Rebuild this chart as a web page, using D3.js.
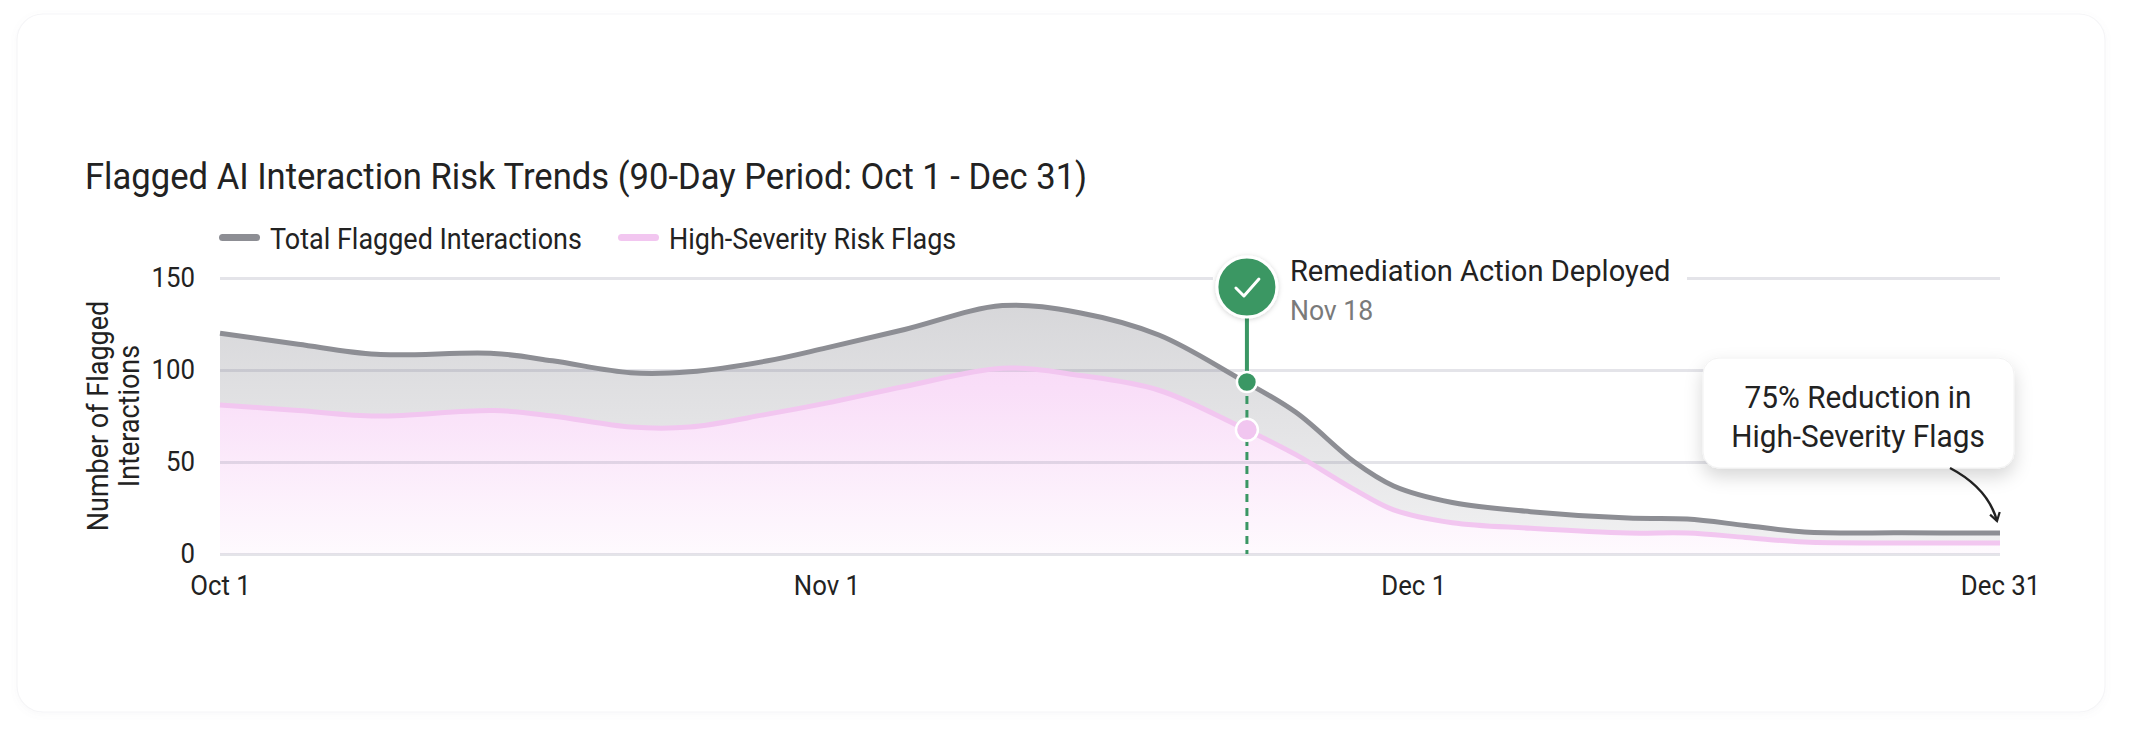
<!DOCTYPE html>
<html>
<head>
<meta charset="utf-8">
<script src="https://cdn.jsdelivr.net/npm/d3@7"></script>
<style>
  body { margin: 0; background: #fff; }
  svg { display: block; font-family: Roboto, "Noto Sans", sans-serif; }
</style>
</head>
<body>
<div class="chart"></div>
<script>
// data
const dates = ["2024-10-01","2024-10-05","2024-10-09","2024-10-15","2024-10-18","2024-10-22",
  "2024-10-25","2024-10-29","2024-11-01","2024-11-05","2024-11-10","2024-11-14","2024-11-18",
  "2024-11-22","2024-11-25","2024-11-28","2024-11-30","2024-12-03","2024-12-07","2024-12-12",
  "2024-12-15","2024-12-18","2024-12-21","2024-12-26","2024-12-31"];
const totalFlagged = [120, 114, 108.5, 109, 105, 98.5, 99, 105, 112, 122, 135, 131, 119,
  96, 77, 50, 37, 28, 23, 19.5, 19, 15.5, 12, 11.5, 11.4];
const highSeverity = [81, 78, 75, 78, 75, 69, 69, 76, 82, 91, 101, 97, 89,
  70, 54, 35, 24, 17, 14, 11.4, 11.4, 9, 6.5, 6, 6];
const seriesNames = ["Total Flagged Interactions", "High-Severity Risk Flags"];
const yTicks = [0, 50, 100, 150];
const xTickDates = ["2024-10-01", "2024-11-01", "2024-12-01", "2024-12-31"];
const xTickLabels = ["Oct 1", "Nov 1", "Dec 1", "Dec 31"];
const markerDate = "2024-11-22T12:00";
const markerValues = [93.5, 67.5];
const markerTitle = "Remediation Action Deployed";
const markerSub = "Nov 18";
const calloutLines = ["75% Reduction in", "High-Severity Flags"];
const chartTitle = "Flagged AI Interaction Risk Trends (90-Day Period: Oct 1 - Dec 31)";
const yTitleLines = ["Number of Flagged", "Interactions"];

function init(){
    const w = 2131, h = 736;
    const left = 220, right = 2000, top = 278, bottom = 554;
    const grayLine = "#8d8e94", pinkLine = "#f2c6f0", green = "#3a9764";

    // lettering in the picture is a little narrower than Roboto: keep height, squeeze width
    function narrow(k){
        return sel => sel.each(function(){
            const n = this.getComputedTextLength();
            d3.select(this).attr("textLength", n * k).attr("lengthAdjust", "spacingAndGlyphs");
        });
    }

    const parse = d3.isoParse;
    const data = dates.map((d, i) => ({date: parse(d), total: totalFlagged[i], high: highSeverity[i]}));

    const x = d3.scaleTime()
      .domain([parse(xTickDates[0]), parse(xTickDates[3])])
      .range([left, right]);
    const y = d3.scaleLinear().domain([0, 150]).range([bottom, top]);

    const svg = d3.select(".chart").append("svg").attr("width", w).attr("height", h);
    const defs = svg.append("defs");

    const f1 = defs.append("filter").attr("id", "cardShadow").attr("x", "-5%").attr("y", "-10%").attr("width", "110%").attr("height", "120%");
    f1.append("feDropShadow").attr("dx", 0).attr("dy", 2).attr("stdDeviation", 3).attr("flood-color", "#8a8aa0").attr("flood-opacity", 0.06);
    const f2 = defs.append("filter").attr("id", "boxShadow").attr("x", "-20%").attr("y", "-30%").attr("width", "140%").attr("height", "180%");
    f2.append("feDropShadow").attr("dx", 0).attr("dy", 8).attr("stdDeviation", 9).attr("flood-color", "#000").attr("flood-opacity", 0.16);
    const f3 = defs.append("filter").attr("id", "badgeShadow").attr("x", "-50%").attr("y", "-50%").attr("width", "200%").attr("height", "200%");
    f3.append("feDropShadow").attr("dx", 0).attr("dy", 1).attr("stdDeviation", 2.5).attr("flood-color", "#000").attr("flood-opacity", 0.18);

    const gGray = defs.append("linearGradient").attr("id", "grayFill")
      .attr("gradientUnits", "userSpaceOnUse").attr("x1", 0).attr("x2", 0).attr("y1", top).attr("y2", bottom);
    gGray.append("stop").attr("offset", 0).attr("stop-color", "#d4d4d7");
    gGray.append("stop").attr("offset", 1).attr("stop-color", "#f1f1f2");
    const gPink = defs.append("linearGradient").attr("id", "pinkFill")
      .attr("gradientUnits", "userSpaceOnUse").attr("x1", 0).attr("x2", 0).attr("y1", top).attr("y2", bottom);
    gPink.append("stop").attr("offset", 0).attr("stop-color", "#f7d2f5");
    gPink.append("stop").attr("offset", 0.4).attr("stop-color", "#f9def8");
    gPink.append("stop").attr("offset", 1).attr("stop-color", "#fefafe");

    // card
    svg.append("rect").attr("x", 17).attr("y", 14).attr("width", 2088).attr("height", 698)
      .attr("rx", 26).attr("fill", "#fff").attr("stroke", "#f5f5f7").attr("stroke-width", 1.2)
      .attr("filter", "url(#cardShadow)");

    // title
    svg.append("text").attr("x", 85).attr("y", 189)
      .attr("font-size", 37).attr("fill", "#222").text(chartTitle)
      .call(narrow(0.935));

    // legend
    const legendX = [219, 618];
    const legendColors = [grayLine, pinkLine];
    seriesNames.forEach((name, i) => {
        svg.append("rect").attr("x", legendX[i]).attr("y", 234).attr("width", 41).attr("height", 7)
          .attr("rx", 3.5).attr("fill", legendColors[i]);
        svg.append("text").attr("x", legendX[i] + 51).attr("y", 239).attr("dy", "0.35em")
          .attr("font-size", 29).attr("fill", "#222").text(name)
          .call(narrow(0.93));
    });

    // areas
    const curve = d3.curveCatmullRom.alpha(0.5);
    const grayArea = d3.area().x(d => x(d.date)).y0(d => y(d.high)).y1(d => y(d.total)).curve(curve);
    const pinkArea = d3.area().x(d => x(d.date)).y0(y(0)).y1(d => y(d.high)).curve(curve);
    svg.append("path").datum(data).attr("d", grayArea).attr("fill", "url(#grayFill)");
    svg.append("path").datum(data).attr("d", pinkArea).attr("fill", "url(#pinkFill)");

    // gridlines on top of fills
    svg.append("g")
      .attr("transform", `translate(${left},0)`)
      .call(d3.axisLeft(y).tickValues(yTicks).tickSize(-(right - left)).tickFormat(""))
      .call(g => g.select(".domain").remove())
      .call(g => g.selectAll(".tick line").attr("stroke", "rgba(120,120,145,0.2)").attr("stroke-width", 3));

    // lines
    const totalLine = d3.line().x(d => x(d.date)).y(d => y(d.total)).curve(curve);
    const highLine = d3.line().x(d => x(d.date)).y(d => y(d.high)).curve(curve);
    svg.append("path").datum(data).attr("d", highLine).attr("fill", "none")
      .attr("stroke", pinkLine).attr("stroke-width", 5);
    svg.append("path").datum(data).attr("d", totalLine).attr("fill", "none")
      .attr("stroke", grayLine).attr("stroke-width", 5);

    // axes
    svg.append("g")
      .attr("transform", `translate(${left - 25},0)`)
      .call(d3.axisLeft(y).tickValues(yTicks).tickSize(0).tickPadding(0))
      .call(g => g.select(".domain").remove())
      .call(g => g.selectAll("text").attr("font-size", 28).attr("fill", "#222").attr("font-family", "Roboto").call(narrow(0.92)));

    svg.append("g")
      .attr("transform", `translate(0,${bottom + 21})`)
      .call(d3.axisBottom(x).tickValues(xTickDates.map(parse)).tickSize(0).tickPadding(0)
        .tickFormat((d, i) => xTickLabels[i]))
      .call(g => g.select(".domain").remove())
      .call(g => g.selectAll("text").attr("font-size", 28).attr("fill", "#222").attr("font-family", "Roboto").call(narrow(0.92)));

    // y title
    const yt = svg.append("g").attr("transform", "translate(108,416) rotate(-90)");
    yTitleLines.forEach((t, i) => {
        yt.append("text").attr("x", 0).attr("y", i * 31).attr("text-anchor", "middle")
          .attr("font-size", 29).attr("fill", "#222").text(t).call(narrow(0.93));
    });

    // remediation marker
    const mx = x(parse(markerDate));
    const badgeY = 287;
    svg.append("line").attr("x1", mx).attr("x2", mx).attr("y1", y(markerValues[0])).attr("y2", bottom)
      .attr("stroke", green).attr("stroke-width", 3).attr("stroke-dasharray", "8,6");
    svg.append("line").attr("x1", mx).attr("x2", mx).attr("y1", badgeY).attr("y2", y(markerValues[0]))
      .attr("stroke", green).attr("stroke-width", 4);
    svg.append("circle").attr("cx", mx).attr("cy", y(markerValues[0])).attr("r", 10)
      .attr("fill", green).attr("stroke", "#fff").attr("stroke-width", 2.5);
    svg.append("circle").attr("cx", mx).attr("cy", y(markerValues[1])).attr("r", 11)
      .attr("fill", "#f1c6f0").attr("stroke", "#fff").attr("stroke-width", 2.5);

    svg.append("rect").attr("x", mx - 34).attr("y", 264).attr("width", 1687 - (mx - 34)).attr("height", 30)
      .attr("fill", "#fff");
    svg.append("circle").attr("cx", mx).attr("cy", badgeY).attr("r", 30)
      .attr("fill", green).attr("stroke", "#fff").attr("stroke-width", 3).attr("filter", "url(#badgeShadow)");
    svg.append("path").attr("d", `M${mx - 11},${badgeY + 1} L${mx - 3},${badgeY + 9} L${mx + 12},${badgeY - 8}`)
      .attr("fill", "none").attr("stroke", "#fff").attr("stroke-width", 3)
      .attr("stroke-linecap", "round").attr("stroke-linejoin", "round");

    svg.append("text").attr("x", mx + 43).attr("y", 281).attr("font-size", 30).attr("fill", "#222")
      .text(markerTitle).call(narrow(0.97));
    svg.append("text").attr("x", mx + 43).attr("y", 320).attr("font-size", 28).attr("fill", "#7a7a7a")
      .text(markerSub).call(narrow(0.95));

    // callout
    svg.append("rect").attr("x", 1703).attr("y", 358).attr("width", 311).attr("height", 110)
      .attr("rx", 16).attr("fill", "#fff").attr("stroke", "#f2f2f2").attr("filter", "url(#boxShadow)");
    calloutLines.forEach((t, i) => {
        svg.append("text").attr("x", 1858).attr("y", 408 + i * 39).attr("text-anchor", "middle")
          .attr("font-size", 32).attr("fill", "#222").text(t).call(narrow(0.93));
    });

    // arrow
    const endX = x(parse(xTickDates[3]));
    const endY = y(totalFlagged[totalFlagged.length - 1]) - 12;
    defs.append("marker").attr("id", "arrowHead").attr("viewBox", "0 0 12 12").attr("refX", 10).attr("refY", 6)
      .attr("markerWidth", 12).attr("markerHeight", 12).attr("markerUnits", "userSpaceOnUse").attr("orient", "auto")
      .append("path").attr("d", "M2,1 L10,6 L2,11").attr("fill", "none").attr("stroke", "#222").attr("stroke-width", 2.2);
    svg.append("path").attr("d", `M1950,468 Q1988,488 ${endX - 3},${endY}`)
      .attr("fill", "none").attr("stroke", "#222").attr("stroke-width", 2.5).attr("marker-end", "url(#arrowHead)");
}
window.onload = init;
</script>
</body>
</html>
